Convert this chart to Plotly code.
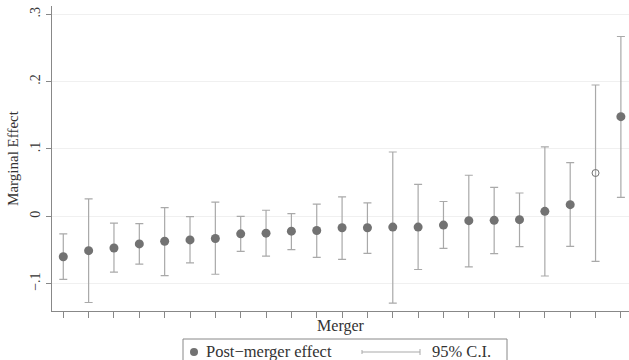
import plotly.graph_objects as go

# Data (ordered mergers)
merger = list(range(1, 24))
effect = [-0.060, -0.051, -0.047, -0.041, -0.037, -0.035, -0.033, -0.026, -0.025, -0.022,
          -0.021, -0.017, -0.017, -0.016, -0.016, -0.013, -0.0065, -0.006, -0.005, 0.0074,
          0.0173, 0.0643, 0.148]
ci_upper = [-0.026, 0.026, -0.010, -0.011, 0.013, -0.0005, 0.021, 0.000, 0.009, 0.004,
            0.018, 0.029, 0.020, 0.0955, 0.0475, 0.022, 0.061, 0.043, 0.0346, 0.103,
            0.0796, 0.195, 0.267]
ci_lower = [-0.0935, -0.128, -0.083, -0.071, -0.088, -0.069, -0.086, -0.052, -0.059, -0.0496,
            -0.061, -0.064, -0.055, -0.129, -0.079, -0.0475, -0.075, -0.0555, -0.045, -0.0886,
            -0.0445, -0.067, 0.028]
open_marker = [False] * 23
open_marker[21] = True

ytick_vals = [-0.1, 0, 0.1, 0.2, 0.3]
ytick_text = ["\u2212.1", "0", ".1", ".2", ".3"]

FONT = "Liberation Serif"
BAR = "#a9a9a9"
DOT = "#727272"
TXT = "#333333"

fig = go.Figure()

err_plus = [u - e for u, e in zip(ci_upper, effect)]
err_minus = [e - l for e, l in zip(effect, ci_lower)]

# CI bars (drawn as invisible markers with error bars)
fig.add_trace(go.Scatter(
    x=merger, y=effect, mode="markers",
    marker=dict(size=1, color="rgba(0,0,0,0)"),
    error_y=dict(type="data", symmetric=False, array=err_plus, arrayminus=err_minus,
                 color=BAR, thickness=1.2, width=4),
    showlegend=False, hoverinfo="skip"))

fx = [m for m, o in zip(merger, open_marker) if not o]
fy = [e for e, o in zip(effect, open_marker) if not o]
ox = [m for m, o in zip(merger, open_marker) if o]
oy = [e for e, o in zip(effect, open_marker) if o]

fig.add_trace(go.Scatter(x=fx, y=fy, mode="markers",
                         marker=dict(size=9, color=DOT, line=dict(width=0)),
                         name="Post\u2212merger effect", showlegend=False))
fig.add_trace(go.Scatter(x=ox, y=oy, mode="markers",
                         marker=dict(size=7, symbol="circle-open", color=DOT, line=dict(width=1)),
                         showlegend=False))

# pixel -> paper helpers (plot area: x 52..629, y 6..311)
def px(x):
    return (x - 52) / 577.0

def py(y):
    return (311 - y) / 305.0

shapes = [
    # legend box
    dict(type="rect", xref="paper", yref="paper", x0=px(183), x1=px(507), y0=py(372), y1=py(339),
         line=dict(color="#888888", width=1), fillcolor="white", layer="above"),
    # legend dot
    dict(type="circle", xref="paper", yref="paper", x0=px(190), x1=px(198), y0=py(356), y1=py(348),
         line=dict(width=0), fillcolor=DOT, layer="above"),
    # legend CI line
    dict(type="line", xref="paper", yref="paper", x0=px(362), x1=px(420), y0=py(352), y1=py(352),
         line=dict(color=BAR, width=1), layer="above"),
    dict(type="line", xref="paper", yref="paper", x0=px(362), x1=px(362), y0=py(350), y1=py(354),
         line=dict(color=BAR, width=1), layer="above"),
    dict(type="line", xref="paper", yref="paper", x0=px(420), x1=px(420), y0=py(349), y1=py(355),
         line=dict(color=BAR, width=1), layer="above"),
]

annotations = [
    dict(text="Post\u2212merger effect", xref="paper", yref="paper", x=px(204), y=py(351),
         xanchor="left", yanchor="middle", showarrow=False,
         font=dict(family=FONT, size=16.5, color=TXT)),
    dict(text="95% C.I.", xref="paper", yref="paper", x=px(430), y=py(351),
         xanchor="left", yanchor="middle", showarrow=False,
         font=dict(family=FONT, size=16.5, color=TXT)),
]

fig.update_layout(
    width=629, height=360,
    margin=dict(l=52, r=0, t=6, b=49, autoexpand=False),
    paper_bgcolor="white", plot_bgcolor="white",
    font=dict(family=FONT, size=13, color=TXT),
    shapes=shapes, annotations=annotations,
    showlegend=False,
)

fig.update_xaxes(
    range=[0.555, 23.32], showgrid=False, zeroline=False,
    tickmode="array", tickvals=merger, showticklabels=False,
    ticks="outside", ticklen=6, tickcolor="#888888", tickwidth=1,
    showline=True, linecolor="#888888", linewidth=1,
    title=dict(text="Merger", font=dict(family=FONT, size=16, color=TXT), standoff=2),
)
fig.update_yaxes(
    range=[-0.1406, 0.3123], zeroline=False,
    showgrid=True, gridcolor="#f0f0f0", gridwidth=1,
    tickmode="array", tickvals=ytick_vals, ticktext=ytick_text, tickangle=-90,
    ticks="outside", ticklen=5, tickcolor="#888888", tickwidth=1,
    tickfont=dict(family=FONT, size=14, color=TXT),
    showline=True, linecolor="#888888", linewidth=1,
    title=dict(text="Marginal Effect", font=dict(family=FONT, size=15, color=TXT), standoff=6),
)

fig.write_html("out.html", config={"displayModeBar": False},
               post_script="document.body.style.margin='0';document.body.style.overflow='hidden';")
